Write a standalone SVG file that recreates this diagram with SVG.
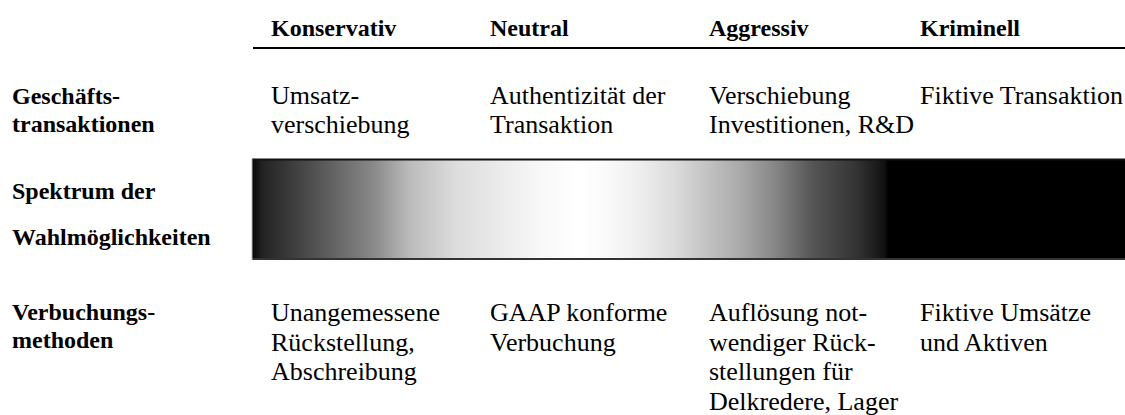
<svg xmlns="http://www.w3.org/2000/svg" width="1125" height="415" viewBox="0 0 1125 415">
<style>
text{font-family:"Liberation Serif","Times New Roman",serif;font-size:26px;fill:#000}
.b{font-weight:bold;font-size:24px}
</style>
<defs>
<linearGradient id="spec" gradientUnits="userSpaceOnUse" x1="252" y1="0" x2="888" y2="0">
<stop offset="0" stop-color="#060606"/>
<stop offset="0.016" stop-color="#222"/>
<stop offset="0.086" stop-color="#4a4a4a"/>
<stop offset="0.19" stop-color="#888"/>
<stop offset="0.248" stop-color="#bbb"/>
<stop offset="0.322" stop-color="#ddd"/>
<stop offset="0.453" stop-color="#f8f8f8"/>
<stop offset="0.516" stop-color="#fff"/>
<stop offset="0.558" stop-color="#fafafa"/>
<stop offset="0.61" stop-color="#eee"/>
<stop offset="0.662" stop-color="#dcdcdc"/>
<stop offset="0.767" stop-color="#aaa"/>
<stop offset="0.82" stop-color="#888"/>
<stop offset="0.882" stop-color="#555"/>
<stop offset="0.951" stop-color="#333"/>
<stop offset="0.995" stop-color="#111"/>
<stop offset="1" stop-color="#000"/>
</linearGradient>
</defs>
<rect width="1125" height="415" fill="#fff"/>
<g id="header">
<text class="b" x="271" y="36">Konservativ</text>
<text class="b" x="490" y="36">Neutral</text>
<text class="b" x="709" y="36">Aggressiv</text>
<text class="b" x="920" y="36">Kriminell</text>
<line x1="253" y1="48" x2="1125" y2="48" stroke="#000" stroke-width="2"/>
</g>
<g id="row-geschaeft">
<text class="b" x="12"><tspan x="12" y="104">Geschäfts-</tspan><tspan x="12" y="132">transaktionen</tspan></text>
<text x="271"><tspan x="271" y="104">Umsatz-</tspan><tspan x="271" y="133">verschiebung</tspan></text>
<text x="490"><tspan x="490" y="104">Authentizität der</tspan><tspan x="490" y="133">Transaktion</tspan></text>
<text x="709"><tspan x="709" y="104">Verschiebung</tspan><tspan x="709" y="133">Investitionen, R&amp;D</tspan></text>
<text x="920"><tspan x="920" y="104">Fiktive Transaktion</tspan></text>
</g>
<g id="row-spektrum">
<text class="b" x="12"><tspan x="12" y="199">Spektrum der</tspan><tspan x="12" y="245">Wahlmöglichkeiten</tspan></text>
<rect x="252" y="159" width="636" height="100" fill="url(#spec)"/>
<rect x="888" y="159" width="237" height="100" fill="#000"/>
<line x1="252" y1="159.5" x2="1125" y2="159.5" stroke="#111" stroke-width="2"/>
<line x1="252" y1="259" x2="1125" y2="259" stroke="#333" stroke-width="2"/>
<line x1="252" y1="159" x2="252" y2="260" stroke="#bbb" stroke-width="1"/>
</g>
<g id="row-verbuchung">
<text class="b" x="12"><tspan x="12" y="320">Verbuchungs-</tspan><tspan x="12" y="348">methoden</tspan></text>
<text x="271"><tspan x="271" y="321">Unangemessene</tspan><tspan x="271" y="350.5">Rückstellung,</tspan><tspan x="271" y="380">Abschreibung</tspan></text>
<text x="490"><tspan x="490" y="321">GAAP konforme</tspan><tspan x="490" y="350.5">Verbuchung</tspan></text>
<text x="709"><tspan x="709" y="321">Auflösung not-</tspan><tspan x="709" y="350.5">wendiger Rück-</tspan><tspan x="709" y="380">stellungen für</tspan><tspan x="709" y="409.5">Delkredere, Lager</tspan></text>
<text x="920"><tspan x="920" y="321">Fiktive Umsätze</tspan><tspan x="920" y="350.5">und Aktiven</tspan></text>
</g>
</svg>
